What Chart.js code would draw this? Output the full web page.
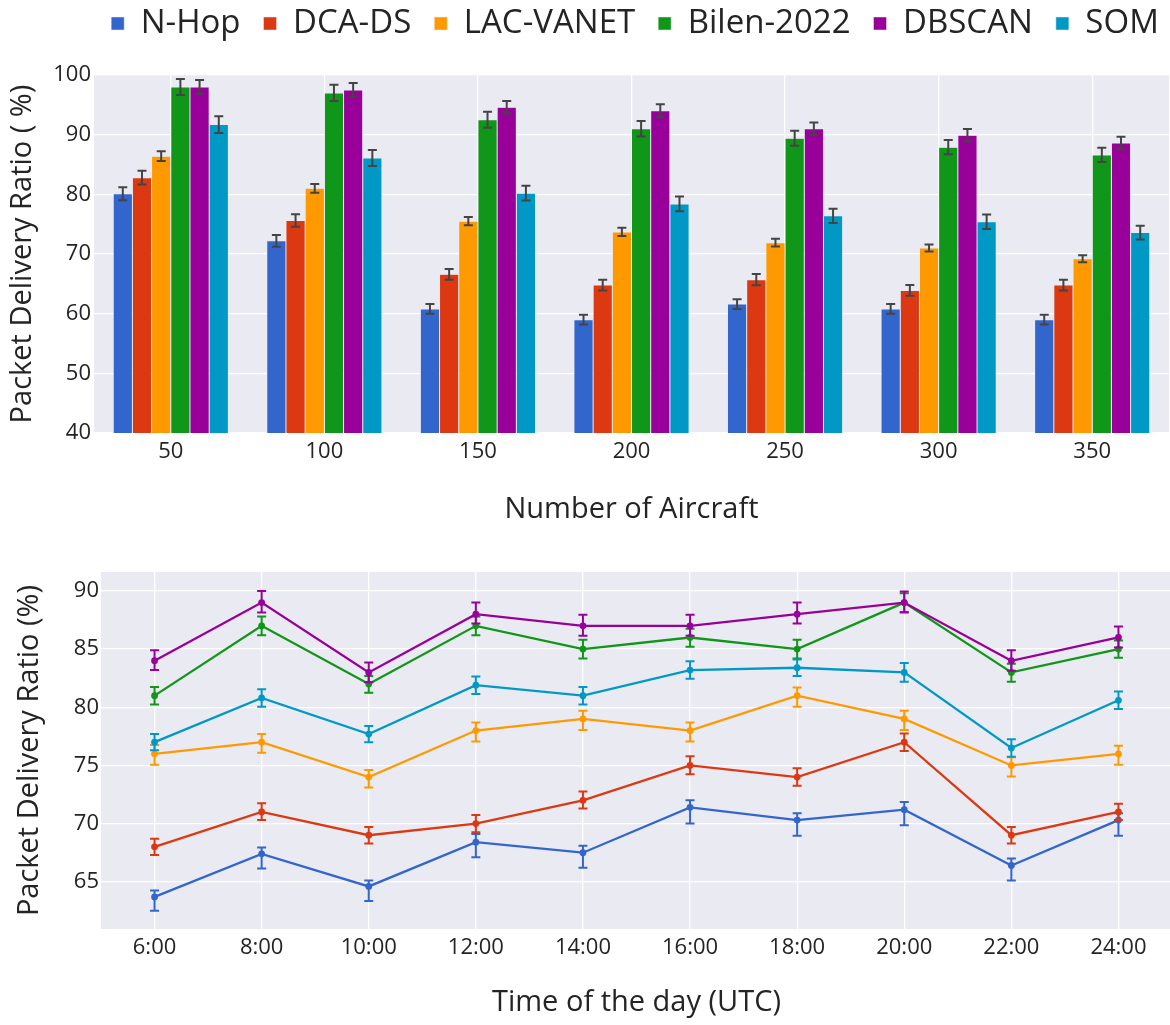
<!DOCTYPE html>
<html>
<head>
<meta charset="utf-8">
<script src="https://cdn.jsdelivr.net/npm/chart.js@4.4.1/dist/chart.umd.min.js"></script>
<style>
  html, body { margin: 0; padding: 0; background: #ffffff; overflow: hidden; width: 1170px; height: 1025px; }
  #pdrByAircraft { position: absolute; left: 0; top: 0; }
  #pdrByTime { position: absolute; left: 0; top: 545px; }
</style>
</head>
<body>
<canvas id="pdrByAircraft" width="1170" height="545"></canvas>
<canvas id="pdrByTime" width="1176" height="480"></canvas>
<script>
// ---- shared series info ----
const seriesNames  = ['N-Hop', 'DCA-DS', 'LAC-VANET', 'Bilen-2022', 'DBSCAN', 'SOM'];
const seriesColors = ['#3366CC', '#DC3912', '#FF9900', '#109618', '#990099', '#0099C6'];

// ---- packet delivery ratio vs. number of aircraft (bars, symmetric error) ----
const aircraftCounts = ['50', '100', '150', '200', '250', '300', '350'];
const barNHop     = [80.1, 72.2, 60.8, 59.0, 61.6, 60.8, 59.0];
const barDcaDs    = [82.8, 75.6, 66.6, 64.8, 65.7, 63.9, 64.8];
const barLacVanet = [86.4, 81.0, 75.5, 73.7, 71.9, 71.0, 69.2];
const barBilen    = [98.0, 97.0, 92.5, 91.0, 89.4, 87.9, 86.6];
const barDbscan   = [98.0, 97.5, 94.6, 94.0, 91.0, 89.9, 88.6];
const barSom      = [91.7, 86.1, 80.2, 78.4, 76.4, 75.4, 73.6];
const barErrNHop     = [1.1, 1.0, 0.8, 0.8, 0.8, 0.8, 0.8];
const barErrDcaDs    = [1.15, 1.05, 0.9, 0.9, 0.95, 0.9, 0.9];
const barErrLacVanet = [0.8, 0.75, 0.7, 0.7, 0.65, 0.6, 0.6];
const barErrBilen    = [1.35, 1.35, 1.35, 1.3, 1.25, 1.2, 1.2];
const barErrDbscan   = [1.15, 1.15, 1.05, 1.1, 1.05, 1.05, 1.05];
const barErrSom      = [1.4, 1.35, 1.25, 1.25, 1.2, 1.2, 1.15];
const yTicksAircraft = [40, 50, 60, 70, 80, 90, 100];

// ---- packet delivery ratio vs. time of day (lines, error up / down) ----
const timeLabels = ['6:00', '8:00', '10:00', '12:00', '14:00', '16:00', '18:00', '20:00', '22:00', '24:00'];
const lineNHop     = [63.7, 67.4, 64.6, 68.4, 67.5, 71.4, 70.3, 71.2, 66.4, 70.3];
const lineDcaDs    = [68, 71, 69, 70, 72, 75, 74, 77, 69, 71];
const lineLacVanet = [76, 77, 74, 78, 79, 78, 81, 79, 75, 76];
const lineBilen    = [81, 87, 82, 87, 85, 86, 85, 89, 83, 85];
const lineDbscan   = [84, 89, 83, 88, 87, 87, 88, 89, 84, 86];
const lineSom      = [77.0, 80.8, 77.7, 81.9, 81.0, 83.2, 83.4, 83.0, 76.5, 80.6];
const upNHop     = [0.55, 0.55, 0.5, 0.7, 0.6, 0.6, 0.6, 0.65, 0.6, 0.6];
const downNHop   = [1.2, 1.25, 1.25, 1.3, 1.3, 1.4, 1.35, 1.35, 1.3, 1.35];
const upDcaDs    = [0.7, 0.75, 0.7, 0.75, 0.75, 0.8, 0.75, 0.75, 0.7, 0.7];
const downDcaDs  = [0.7, 0.7, 0.7, 0.75, 0.7, 0.75, 0.75, 0.75, 0.7, 0.7];
const upLac      = [0.75, 0.7, 0.6, 0.7, 0.7, 0.7, 0.7, 0.7, 0.7, 0.7];
const downLac    = [0.95, 0.9, 0.9, 0.95, 0.95, 0.95, 0.95, 0.95, 0.95, 0.95];
const upBilen    = [0.75, 0.8, 0.7, 0.8, 0.8, 0.75, 0.8, 0.8, 0.75, 0.75];
const downBilen  = [0.75, 0.8, 0.75, 0.8, 0.8, 0.8, 0.8, 0.8, 0.8, 0.75];
const upDbscan   = [0.9, 1.0, 0.85, 1.0, 0.95, 0.95, 1.0, 0.95, 0.9, 0.95];
const downDbscan = [0.8, 0.85, 0.85, 0.8, 0.85, 0.85, 0.8, 0.85, 0.85, 0.85];
const upSom      = [0.7, 0.75, 0.7, 0.75, 0.75, 0.75, 0.7, 0.8, 0.75, 0.75];
const downSom    = [0.7, 0.75, 0.7, 0.75, 0.75, 0.75, 0.7, 0.8, 0.75, 0.75];
const yTicksTime = [65, 70, 75, 80, 85, 90];

const textColor = '#242424';
const plotBg = '#EAEAF2';
Chart.defaults.font.family = "'Open Sans', 'Noto Sans', sans-serif";
Chart.defaults.color = textColor;

// fills the plotting area before grid and data are drawn
const plotBackground = {
  id: 'plotBackground',
  beforeDraw(chart) {
    const { ctx, chartArea: a } = chart;
    ctx.save();
    ctx.fillStyle = plotBg;
    ctx.fillRect(a.left, a.top, a.right - a.left, a.bottom - a.top);
    ctx.restore();
  }
};

// vertical error bars with caps, drawn right after each dataset
const errorBars = {
  id: 'errorBars',
  afterDatasetDraw(chart, args) {
    const ds = chart.data.datasets[args.index];
    if (!ds.errUp) return;
    const yScale = chart.scales.y;
    const ctx = chart.ctx;
    const hw = ds.errCap || 4.5;
    ctx.save();
    ctx.strokeStyle = ds.errColor || ds.borderColor;
    ctx.lineWidth = ds.errWidth || 2;
    ctx.lineCap = 'butt';
    args.meta.data.forEach((el, i) => {
      const v = ds.data[i];
      const yTop = yScale.getPixelForValue(v + ds.errUp[i]);
      const yBot = yScale.getPixelForValue(v - ds.errDown[i]);
      const x = el.x;
      ctx.beginPath();
      ctx.moveTo(x, yTop); ctx.lineTo(x, yBot);
      ctx.moveTo(x - hw, yTop); ctx.lineTo(x + hw, yTop);
      ctx.moveTo(x - hw, yBot); ctx.lineTo(x + hw, yBot);
      ctx.stroke();
    });
    ctx.restore();
  }
};

// reserves room above the plot for the legend row and shifts the row into place
const legendPlacement = {
  id: 'legendPlacement',
  afterInit(chart, args, opts) {
    const lg = chart.legend;
    if (!lg) return;
    const fit = lg.fit;
    lg.fit = function () { fit.call(this); this.height = opts.height; };
    const draw = lg.draw;
    lg.draw = function () {
      const c = this.ctx;
      c.save();
      c.translate(opts.dx, opts.dy);
      draw.call(this);
      c.restore();
    };
  }
};

const barSeries = [barNHop, barDcaDs, barLacVanet, barBilen, barDbscan, barSom];
const barErrors = [barErrNHop, barErrDcaDs, barErrLacVanet, barErrBilen, barErrDbscan, barErrSom];

new Chart(document.getElementById('pdrByAircraft'), {
  type: 'bar',
  data: {
    labels: aircraftCounts,
    datasets: seriesNames.map((name, i) => ({
      label: name,
      data: barSeries[i],
      backgroundColor: seriesColors[i],
      borderColor: plotBg,
      borderWidth: 0.5,
      errUp: barErrors[i],
      errDown: barErrors[i],
      errColor: '#444444',
      errWidth: 2,
      errCap: 4.5,
      categoryPercentage: 0.75,
      barPercentage: 1.0
    }))
  },
  options: {
    responsive: false,
    devicePixelRatio: 1,
    animation: false,
    events: [],
    layout: { padding: { left: 0, right: 1, top: 0, bottom: 0 } },
    plugins: {
      tooltip: { enabled: false },
      legendPlacement: { height: 75, dx: 50.5, dy: -16 },
      legend: {
        display: true,
        position: 'top',
        align: 'center',
        labels: {
          font: { size: 33 },
          color: textColor,
          boxWidth: 13,
          boxHeight: 13,
          padding: 23
        }
      }
    },
    scales: {
      x: {
        type: 'category',
        offset: true,
        grid: { display: true, color: '#ffffff', lineWidth: 1.3, offset: false, drawTicks: false },
        border: { display: false },
        ticks: { font: { size: 22 }, color: textColor, padding: 6, maxRotation: 0 },
        title: { display: true, text: 'Number of Aircraft', font: { size: 29 }, color: textColor, padding: { top: 0, bottom: 18 } },
        afterFit(scale) { scale.height = 112; }
      },
      y: {
        type: 'linear',
        min: yTicksAircraft[0],
        max: yTicksAircraft[yTicksAircraft.length - 1],
        afterBuildTicks(scale) { scale.ticks = yTicksAircraft.map(v => ({ value: v })); },
        grid: { color: '#ffffff', lineWidth: 1.3, drawTicks: false },
        border: { display: false },
        ticks: { font: { size: 22 }, color: textColor, padding: 3 },
        title: { display: true, text: 'Packet Delivery Ratio ( %)', font: { size: 29 }, color: textColor, padding: { top: 5, bottom: 0 } },
        afterFit(scale) { scale.width = 94; }
      }
    }
  },
  plugins: [plotBackground, errorBars, legendPlacement]
});

const lineSeries = [lineNHop, lineDcaDs, lineLacVanet, lineBilen, lineDbscan, lineSom];
const lineUp = [upNHop, upDcaDs, upLac, upBilen, upDbscan, upSom];
const lineDown = [downNHop, downDcaDs, downLac, downBilen, downDbscan, downSom];

new Chart(document.getElementById('pdrByTime'), {
  type: 'line',
  data: {
    labels: timeLabels,
    datasets: seriesNames.map((name, i) => ({
      label: name,
      data: lineSeries[i],
      order: -i,
      borderColor: seriesColors[i],
      backgroundColor: seriesColors[i],
      borderWidth: 2.3,
      pointRadius: 3.4,
      pointBorderWidth: 0,
      pointBackgroundColor: seriesColors[i],
      tension: 0,
      fill: false,
      errUp: lineUp[i],
      errDown: lineDown[i],
      errWidth: 2,
      errCap: 4.5
    }))
  },
  options: {
    responsive: false,
    devicePixelRatio: 1,
    animation: false,
    events: [],
    layout: { padding: { left: 0, right: 1, top: 27, bottom: 0 } },
    plugins: {
      tooltip: { enabled: false },
      legend: { display: false }
    },
    scales: {
      x: {
        type: 'category',
        offset: true,
        grid: { display: true, color: '#ffffff', lineWidth: 1.3, offset: false, drawTicks: false },
        border: { display: false },
        ticks: { font: { size: 22 }, color: textColor, padding: 6, maxRotation: 0, autoSkip: false },
        title: { display: true, text: 'Time of the day (UTC)', font: { size: 29 }, color: textColor, padding: { top: 0, bottom: 5 } },
        afterFit(scale) { scale.height = 96; }
      },
      y: {
        type: 'linear',
        min: 60.94,
        max: 91.63,
        afterBuildTicks(scale) { scale.ticks = yTicksTime.map(v => ({ value: v })); },
        grid: { color: '#ffffff', lineWidth: 1.3, drawTicks: false },
        border: { display: false },
        ticks: { font: { size: 22 }, color: textColor, padding: 2 },
        title: { display: true, text: 'Packet Delivery Ratio (%)', font: { size: 29 }, color: textColor, padding: { top: 12, bottom: 0 } },
        afterFit(scale) { scale.width = 101; }
      }
    }
  },
  plugins: [plotBackground, errorBars]
});
</script>
</body>
</html>
